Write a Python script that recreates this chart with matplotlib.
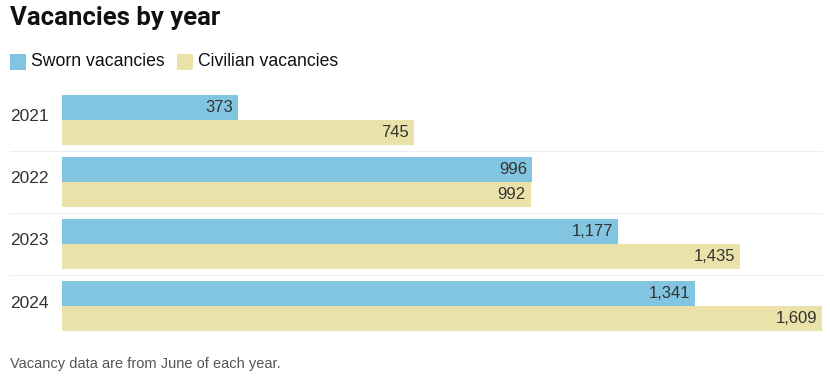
import numpy as np
import matplotlib.pyplot as plt
from matplotlib.patches import Rectangle

# ── Data ──────────────────────────────────────────────────────────────────────
years = ["2021", "2022", "2023", "2024"]
sworn = [373, 996, 1177, 1341]
civilian = [745, 992, 1435, 1609]

C_SWORN = "#82C5E0"
C_CIVIL = "#EAE2A8"
C_TEXT = "#333333"
BODY = ["Liberation Sans", "DejaVu Sans"]

W, H = 830, 380
fig = plt.figure(figsize=(W / 100, H / 100), dpi=100)
fig.patch.set_facecolor("white")

# axes placed in pixel terms: x 62..822, y 95..331
ax = fig.add_axes([62 / W, 1 - 331 / H, 760 / W, 236 / H])
ax.set_xlim(0, max(civilian))
ax.set_ylim(len(years) - 0.6, -0.4)
ax.axis("off")

pos = np.arange(len(years))
bh = 0.4
ax.barh(pos - bh / 2, sworn, height=bh, color=C_SWORN, linewidth=0)
ax.barh(pos + bh / 2, civilian, height=bh, color=C_CIVIL, linewidth=0)

for i in range(len(years)):
    ax.text(sworn[i] - 10, pos[i] - bh / 2, f"{sworn[i]:,}", ha="right", va="center",
            fontsize=12, color=C_TEXT, family=BODY)
    ax.text(civilian[i] - 10, pos[i] + bh / 2, f"{civilian[i]:,}", ha="right", va="center",
            fontsize=12, color=C_TEXT, family=BODY)
    ax.text(-52 / 760, pos[i] - 0.05, years[i], ha="left", va="center",
            fontsize=12.5, color=C_TEXT, family=BODY,
            transform=ax.get_yaxis_transform())

# light separators between year groups
for y in pos[:-1] + 0.5:
    ax.plot([-52 / 760, 1], [y, y], color="#EEEEEE", lw=0.8,
            transform=ax.get_yaxis_transform(), clip_on=False)

# ── Title, legend, note ───────────────────────────────────────────────────────
fig.text(10 / W, 1 - 18 / H, "Vacancies by year", ha="left", va="center",
         fontsize=18.5, fontweight="bold", color="#111111", family=["Roboto", "DejaVu Sans"])

for x0, col, lab in [(10, C_SWORN, "Sworn vacancies"), (177, C_CIVIL, "Civilian vacancies")]:
    fig.patches.append(Rectangle((x0 / W, 1 - 70 / H), 16 / W, 16 / H,
                                 transform=fig.transFigure, color=col, lw=0))
    fig.text((x0 + 21) / W, 1 - 62 / H, lab, ha="left", va="center",
             fontsize=12.7, color="#111111", family=BODY)

fig.text(10 / W, 1 - 364 / H, "Vacancy data are from June of each year.", ha="left",
         va="center", fontsize=10.5, color="#555555", family=BODY)

plt.savefig("out.png", dpi=100, facecolor="white")
